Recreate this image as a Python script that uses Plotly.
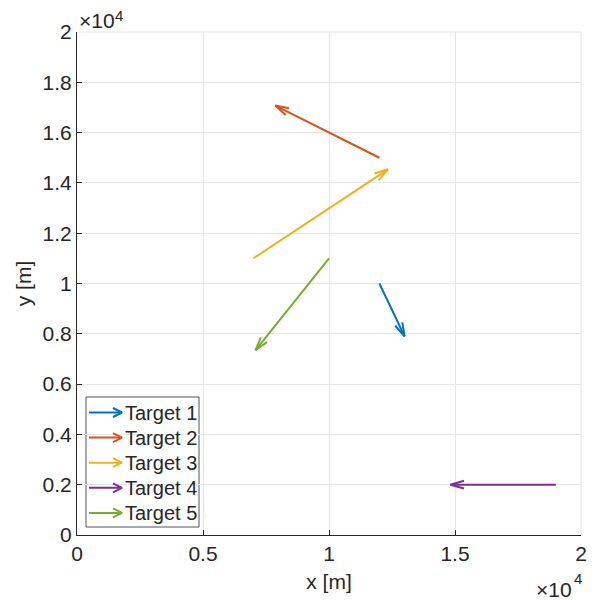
import numpy as np
import plotly.graph_objects as go

# ---- data ----
names = ["Target 1", "Target 2", "Target 3", "Target 4", "Target 5"]
x_start = [12000, 12000, 7000, 19000, 10000]
y_start = [10000, 15000, 11000, 2000, 11000]
u_vec = [1000, -4130, 5340, -4180, -2920]
v_vec = [-2100, 2075, 3540, 0, -3655]
colors = ["#0072BD", "#D95319", "#EDB120", "#7E2F8E", "#77AC30"]
tick_vals = [0, 2000, 4000, 6000, 8000, 10000, 12000, 14000, 16000, 18000, 20000]
tick_text = ["0", "0.2", "0.4", "0.6", "0.8", "1", "1.2", "1.4", "1.6", "1.8", "2"]
x_tick_vals = [0, 5000, 10000, 15000, 20000]
x_tick_text = ["0", "0.5", "1", "1.5", "2"]
exp_base = "×10"
exp_power = "4"

FONT = "Liberation Sans, Arial, Helvetica, sans-serif"
TXT = "#262626"
FS = 21
GRID = "#e6e6e6"

# page body has an 8px default margin; figure is sized to fit the 596x600 window
OFF = 8
W, H = 596 - OFF, 600 - OFF
ML, MR, MT, MB = 77 - OFF, 15, 32 - OFF, 65
PW, PH = W - ML - MR, H - MT - MB

fig = go.Figure()

head_len = 560.0
head_ang = np.deg2rad(16)

for i, name in enumerate(names):
    x0, y0, u, v = x_start[i], y_start[i], u_vec[i], v_vec[i]
    x1, y1 = x0 + u, y0 + v
    L = np.hypot(u, v)
    dx, dy = u / L, v / L
    hx = []
    hy = []
    for s in (1, -1):
        c, sn = np.cos(s * head_ang), np.sin(s * head_ang)
        rx = dx * c - dy * sn
        ry = dx * sn + dy * c
        hx += [x1 - head_len * rx, x1, None]
        hy += [y1 - head_len * ry, y1, None]
    xs = [x0, x1, None] + hx
    ys = [y0, y1, None] + hy
    fig.add_trace(go.Scatter(x=xs, y=ys, mode="lines", name=name,
                             line=dict(color=colors[i], width=2),
                             showlegend=False, xaxis="x", yaxis="y"))

# ---- manual legend (pixel overlay axes; coords relative to plot area top-left) ----
leg_left, leg_top, leg_right, leg_bottom = 9, 365, 122, 495
row0, row_step = 380.5, 25.1
for i, name in enumerate(names):
    py = row0 + i * row_step
    ax0, ax1 = 12, 45
    lx = [ax0, ax1, None, ax1 - 9, ax1, ax1 - 9]
    ly = [py, py, None, py - 4.5, py, py + 4.5]
    fig.add_trace(go.Scatter(x=lx, y=ly, mode="lines", line=dict(color=colors[i], width=2),
                             showlegend=False, xaxis="x2", yaxis="y2", hoverinfo="skip"))
    fig.add_annotation(x=ax1 + 1, y=py, xref="x2", yref="y2", text=name,
                       showarrow=False, xanchor="left", yanchor="middle",
                       font=dict(family=FONT, size=20, color=TXT))

fig.add_shape(type="rect", xref="x2", yref="y2",
              x0=leg_left, x1=leg_right, y0=leg_top, y1=leg_bottom,
              line=dict(color="#262626", width=0.8), fillcolor="rgba(255,255,255,0.9)",
              layer="below")

# light border lines on top/right (grid at limits)
fig.add_shape(type="line", xref="paper", yref="paper", x0=0, x1=1, y0=1, y1=1,
              line=dict(color=GRID, width=1), layer="below")
fig.add_shape(type="line", xref="paper", yref="paper", x0=1, x1=1, y0=0, y1=1,
              line=dict(color=GRID, width=1), layer="below")

axis_common = dict(
    showgrid=True, gridcolor=GRID, gridwidth=1,
    zeroline=False, showline=True, linecolor=TXT, linewidth=1,
    ticks="inside", ticklen=5, tickcolor=TXT, tickwidth=1,
    tickfont=dict(family=FONT, size=FS, color=TXT),
    automargin=False,
)

fig.update_layout(
    width=W, height=H,
    margin=dict(l=ML, r=MR, t=MT, b=MB),
    paper_bgcolor="white", plot_bgcolor="white",
    showlegend=False,
    xaxis=dict(range=[0, 20000], tickvals=x_tick_vals, ticktext=x_tick_text,
               title=dict(text="x [m]", font=dict(family=FONT, size=FS, color=TXT), standoff=10),
               **axis_common),
    yaxis=dict(range=[0, 20000], tickvals=tick_vals, ticktext=tick_text,
               title=dict(text="y [m]", font=dict(family=FONT, size=FS, color=TXT), standoff=5),
               **axis_common),
    xaxis2=dict(range=[0, PW], overlaying="x", visible=False, fixedrange=True),
    yaxis2=dict(range=[PH, 0], overlaying="y", visible=False, fixedrange=True),
)

# exponent labels (top-left for y, bottom-right for x)
fig.add_annotation(x=0, y=1, xref="paper", yref="paper", text=exp_base,
                   showarrow=False, xanchor="left", yanchor="middle", yshift=12, xshift=0,
                   font=dict(family=FONT, size=FS, color=TXT))
fig.add_annotation(x=0, y=1, xref="paper", yref="paper", text=exp_power,
                   showarrow=False, xanchor="left", yanchor="middle", yshift=16.5, xshift=37,
                   borderpad=0, font=dict(family=FONT, size=15, color=TXT))
fig.add_annotation(x=1, y=0, xref="paper", yref="paper", text=exp_base,
                   showarrow=False, xanchor="right", yanchor="middle", yshift=-54, xshift=-7,
                   font=dict(family=FONT, size=FS, color=TXT))
fig.add_annotation(x=1, y=0, xref="paper", yref="paper", text=exp_power,
                   showarrow=False, xanchor="left", yanchor="middle", yshift=-43, xshift=-9,
                   font=dict(family=FONT, size=15, color=TXT))

fig.write_html("out.html")
